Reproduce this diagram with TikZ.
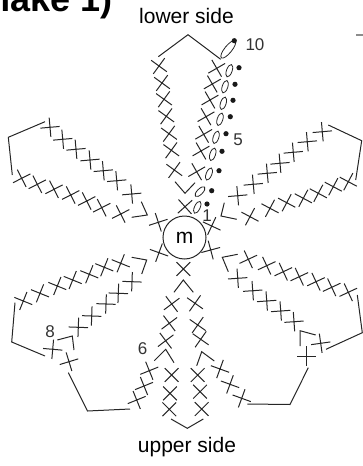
\documentclass[tikz,border=0pt]{standalone}
\usepackage{fontspec}
\setmainfont{Liberation Sans}
\usepackage{tikz}
\usetikzlibrary{positioning}

\tikzset{
    stitch/.style={draw=black!85, line width=1pt},
    sidelabel/.style={inner sep=0pt, font=\fontsize{21}{21}\selectfont},
    countlabel/.style={inner sep=0pt, text=black!80, font=\fontsize{17}{17}\selectfont},
    crossmark/.pic={\draw[stitch] (-9.7,0) -- (9.7,0) (0,-9.7) -- (0,9.7);},
    chainmark/.pic={\draw[stitch, line width=0.8pt] (0,0) ellipse [x radius=6.5, y radius=2.8];},
}

\begin{document}
\begin{tikzpicture}[x=1pt, y=-1pt]
\useasboundingbox (0,0) rectangle (363,466);

% centre ring
\node[circle, stitch, minimum size=43pt, inner sep=0pt, font=\fontsize{21}{21}\selectfont] (ring) at (184.5,237.5) {m};

% labels
\node[sidelabel] (lower) at (186.5,16) {lower side};
\node[sidelabel] (upper) at (187,447) {upper side};
\node[anchor=base east, inner sep=0pt, font=\bfseries\fontsize{36}{36}\selectfont] (title) at (113,11.5) {make 1)};
\node[countlabel] (n10) at (255,45) {10};
\node[countlabel] (n5) at (238,140) {5};
\node[countlabel] (n1) at (207,216) {1};
\node[countlabel] (n8) at (50,332) {8};
\node[countlabel] (n6) at (142.7,348.3) {6};

% edge mark, top right
\draw[draw=black!45, line width=1.8pt] (356,35) -- (363,35);

% crosses round the ring
\foreach \x/\y/\a in {185/206.7/42, 158.3/222.3/18, 211.7/226/-25, 159/252.7/-20, 210.7/250/15, 183.3/269/45}
    \pic[rotate=\a] at (\x,\y) {crossmark};

% lower side, two columns
\foreach \x/\y in {159/66, 162/83, 164/99.3, 166.3/116.3, 169/133.7, 171.3/150.3, 174.3/170}
    \pic[rotate=-36] at (\x,\y) {crossmark};
\foreach \x/\y in {216.7/68.3, 212.3/84, 210/100, 206/116.7, 203.7/134.3, 201/151, 196.7/171.7}
    \pic[rotate=30] at (\x,\y) {crossmark};

% chains and dots
\foreach \x/\y/\a in {229.3/70.7/70, 225/86.7/72, 223.3/103.3/72, 220/119.3/72, 216/137.3/72, 212.7/154.3/72, 209/174/68, 200/191.7/45, 197.3/207.3/65}
    \pic[rotate=\a] at (\x,\y) {chainmark};
\draw[stitch, line width=0.8pt] (228.3,49.3) ellipse [x radius=11, y radius=3.6, rotate=51];
\foreach \x/\y in {234.3/40.7, 239/67.7, 235/84.3, 233/100.3, 230.3/116.7, 226/133.7, 222/151.3, 219/170.7, 211.7/190.7, 207/204}
    \fill[black!90] (\x,\y) circle (2.6);

% upper left petal
\foreach \x/\y in {50/127.3, 62.7/139.3, 76/149.3, 90/160, 103.3/170.7, 116.7/180.7, 131.7/194}
    \pic[rotate=5] at (\x,\y) {crossmark};
\foreach \x/\y in {21.7/178.3, 37.3/184.3, 54/189.3, 70.7/195, 86.7/201, 101.7/207.7, 120.7/214}
    \pic[rotate=27] at (\x,\y) {crossmark};

% upper right petal
\foreach \x/\y in {322.3/131.7, 307.3/141.7, 293.3/152.3, 280/163.3, 267.3/173.3, 253.3/184.3, 237.7/195.7}
    \pic[rotate=5] at (\x,\y) {crossmark};
\foreach \x/\y in {348.3/181.7, 333.3/186.7, 318.3/193.3, 303.3/198.3, 286.7/202.7, 270/208.3, 250/216.7}
    \pic[rotate=-28] at (\x,\y) {crossmark};

% lower left petal
\foreach \x/\y in {23.3/301, 40/293.3, 57.3/286, 72.7/280, 89.3/274.3, 104.3/267.3, 120.7/263.3}
    \pic[rotate=-22] at (\x,\y) {crossmark};
\foreach \x/\y in {132/281.7, 118.3/293.3, 106/304, 91.7/316, 78.3/327.3}
    \pic[rotate=-2] at (\x,\y) {crossmark};
\pic[rotate=-5] at (52.7,349.3) {crossmark};
\pic[rotate=17] at (69,361.7) {crossmark};

% lower right petal
\foreach \x/\y in {248.3/259.3, 266.7/265.7, 283.3/271.7, 299.3/276.7, 316/281.7, 331.7/287.3, 348.3/292.3}
    \pic[rotate=25] at (\x,\y) {crossmark};
\foreach \x/\y in {237.7/278.3, 252.7/290.7, 266.7/301, 280.7/311, 294/321.7}
    \pic[rotate=4] at (\x,\y) {crossmark};
\pic[rotate=8] at (320.7,343.3) {crossmark};
\pic[rotate=0] at (306.7,356) {crossmark};

% upper side, centre and outer columns
\foreach \x/\y in {171.7/304, 169.3/323.3, 165.7/340.7}
    \pic[rotate=37] at (\x,\y) {crossmark};
\foreach \x/\y in {195/303.3, 197.7/325, 200.7/339.3}
    \pic[rotate=-35] at (\x,\y) {crossmark};
\foreach \x/\y in {171.7/375, 170/393.3, 169.3/409.3, 197.7/375, 200/391.7, 201.7/409}
    \pic[rotate=45] at (\x,\y) {crossmark};
\foreach \x/\y in {136.7/400, 144/386, 149.3/370.7}
    \pic[rotate=22] at (\x,\y) {crossmark};
\foreach \x/\y in {220/369, 230/384.3, 241.7/398.3}
    \pic[rotate=-20] at (\x,\y) {crossmark};

% chevrons and corners
\foreach \ax/\ay/\bx/\by/\cx/\cy in {
    175/181.7/185/193.3/195/182.7,
    131.7/217.3/147.3/215/141.3/201.7,
    224.3/202.7/221/216/236.7/219.3,
    131.7/257.3/146.7/260/141.7/274,
    57.3/340/72.3/336/74/350,
    237.7/254.3/222.3/257.3/228.3/271.7,
    300/346/300/330.7/315.7/335,
    174/292.3/183.3/280/193.3/292.3,
    154.3/360.7/165.7/349.3/174/362.7,
    196.7/365.7/201.7/351.7/214.3/361,
    171/419/187.3/428.3/203.3/419,
    158.3/56.7/188/34.7/220.7/59.3,
    45/121.7/8.3/137.3/12.3/175,
    328.3/125/361.7/140.7/355.7/180,
    45/356/11.7/342/15/302.7,
    326/349.3/362.3/332.7/357.3/295,
    68.3/372.7/87.5/411/130/409,
    247.3/404/290/404.5/308.3/367.7}
    \draw[stitch] (\ax,\ay) -- (\bx,\by) -- (\cx,\cy);

\end{tikzpicture}
\end{document}
